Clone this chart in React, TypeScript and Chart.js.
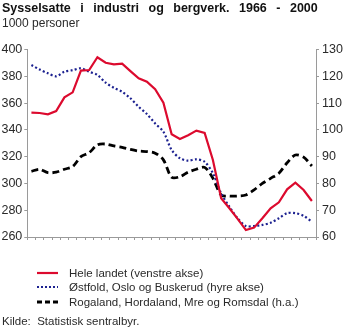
import React, { useEffect, useRef } from "react";
import Chart from "chart.js/auto";

const years = [1966,1967,1968,1969,1970,1971,1972,1973,1974,1975,1976,1977,1978,1979,1980,1981,1982,1983,1984,1985,1986,1987,1988,1989,1990,1991,1992,1993,1994,1995,1996,1997,1998,1999,2000];
const heleLandet = [352.8,352.6,351.6,354,364.3,368,384.2,384.7,394.2,390.1,388.9,389.4,383.9,378.5,376,370.3,360.3,336.7,333.2,336,339.4,337.7,317.5,288.9,281.5,273.5,265.2,267,274,281.4,285.9,295.6,300.5,295.1,286.9];
const ostfoldOsloBuskerud = [124.2,122.5,121.1,120,121.7,122.3,123,121.7,120.5,117.6,115.7,114.2,111.8,108.6,105.9,102.4,99.3,92.5,89.4,88.5,89,88.1,83.8,76.3,71.3,67,64.1,64.1,64.5,65.3,67,68.9,68.9,67.9,65.7];
const rogalandHordalandMoere = [84.5,85.3,84,84.2,85.3,86.3,90,91.5,94.4,94.7,94,93.5,92.7,92.1,91.9,91.3,88.8,82.3,82.5,84.2,85.3,86,81.9,75.7,75.3,75.3,75.7,77.6,80,81.9,83.8,87.7,90.6,89.8,86.5];
const leftTicks = [260, 400, 20];
const rightTicks = [60, 130, 10];
const labels = {
  title: "Sysselsatte i industri og bergverk. 1966 - 2000",
  unit: "1000 personer",
  s1: "Hele landet (venstre akse)",
  s2: "Østfold, Oslo og Buskerud (hyre akse)",
  s3: "Rogaland, Hordaland, Mre og Romsdal (h.a.)",
  source: "Kilde:  Statistisk sentralbyr.",
};

const RED = "#dc0a2e";
const BLUE = "#1c2190";
const BLACK = "#000000";
const FONT = "'Liberation Sans', Arial, Helvetica, sans-serif";
const TXT = "#2a2a2a";
const AXIS = "#9a9a9a";

export default function App() {
  const ref = useRef<HTMLCanvasElement>(null);
  useEffect(() => {
    const pts = (arr: number[]) => arr.map((v, i) => ({ x: years[i], y: v }));
    const chart = new Chart(ref.current!, {
      type: "line",
      data: {
        datasets: [
          { label: labels.s1, data: pts(heleLandet), yAxisID: "yL", borderColor: RED, borderWidth: 2.2, pointRadius: 0, tension: 0 },
          { label: labels.s2, data: pts(ostfoldOsloBuskerud), yAxisID: "yR", borderColor: BLUE, borderWidth: 2.2, borderDash: [2, 2.3], pointRadius: 0, tension: 0.3 },
          { label: labels.s3, data: pts(rogalandHordalandMoere), yAxisID: "yR", borderColor: BLACK, borderWidth: 2.8, borderDash: [7, 4], pointRadius: 0, tension: 0.3 },
        ],
      },
      options: {
        animation: false,
        responsive: false,
        devicePixelRatio: 1,
        layout: { padding: { top: 49.5, bottom: 72, left: 0, right: 0 } },
        plugins: { legend: { display: false }, tooltip: { enabled: false }, title: { display: false } },
        scales: {
          x: {
            type: "linear",
            min: 1965.5,
            max: 2000.5,
            afterFit: (s: any) => { s.height = 20; },
            grid: { drawOnChartArea: false, drawTicks: true, tickLength: 3, color: AXIS },
            border: { color: AXIS },
            ticks: {
              stepSize: 1,
              autoSkip: false,
              includeBounds: false,
              maxRotation: 0,
              padding: 0,
              color: TXT,
              font: { family: FONT, size: 11 },
              callback: (v: any) => (Number(v) % 5 === 0 ? String(v) : ""),
            },
          },
          yL: {
            position: "left",
            min: leftTicks[0],
            max: leftTicks[1],
            afterFit: (s: any) => { s.width = 27.3; },
            grid: { drawOnChartArea: false, tickLength: 3, color: AXIS },
            border: { color: AXIS },
            ticks: { stepSize: leftTicks[2], padding: 2, color: TXT, font: { family: FONT, size: 12.5 } },
          },
          yR: {
            position: "right",
            min: rightTicks[0],
            max: rightTicks[1],
            afterFit: (s: any) => { s.width = 27; },
            grid: { drawOnChartArea: false, tickLength: 3, color: AXIS },
            border: { color: AXIS },
            ticks: { stepSize: rightTicks[2], padding: 3, color: TXT, font: { family: FONT, size: 12.5 } },
          },
        },
      },
    });
    return () => chart.destroy();
  }, []);

  const legendRow = (top: number, text: string, stroke: string, dash: string, w: number) => (
    <div style={{ position: "absolute", left: 0, top, height: 14, width: 343 }}>
      <svg width={30} height={14} style={{ position: "absolute", left: 34, top: 0 }}>
        <line x1={3} y1={7} x2={24} y2={7} stroke={stroke} strokeWidth={w} strokeDasharray={dash} />
      </svg>
      <div style={{ position: "absolute", left: 69, top: 0, lineHeight: "14px", fontSize: 11.5, color: TXT, whiteSpace: "nowrap" }}>{text}</div>
    </div>
  );

  return (
    <div style={{ position: "fixed", left: 0, top: 0, width: 343, height: 329, background: "#fff", fontFamily: FONT, overflow: "hidden" }}>
      <canvas ref={ref} width={343} height={329} style={{ position: "absolute", left: 0, top: 0, width: 343, height: 329 }} />
      <div style={{ position: "absolute", left: 2, top: 1, fontSize: 12.5, fontWeight: "bold", color: "#111", wordSpacing: 6, whiteSpace: "nowrap", lineHeight: "15px" }}>{labels.title}</div>
      <div style={{ position: "absolute", left: 2, top: 16, fontSize: 12, color: TXT, whiteSpace: "nowrap", lineHeight: "15px" }}>{labels.unit}</div>
      {legendRow(266, labels.s1, RED, "", 2.2)}
      {legendRow(280, labels.s2, BLUE, "2 2", 2.2)}
      {legendRow(295, labels.s3, BLACK, "5 3", 2.8)}
      <div style={{ position: "absolute", left: 2, top: 314, fontSize: 11.5, color: TXT, whiteSpace: "pre", lineHeight: "15px" }}>{labels.source}</div>
    </div>
  );
}
